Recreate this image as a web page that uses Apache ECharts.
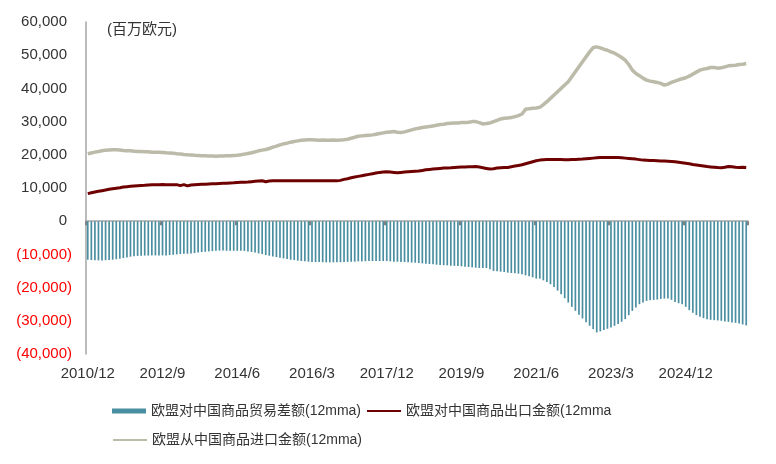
<!DOCTYPE html>
<html>
<head>
<meta charset="utf-8">
<script src="https://cdn.jsdelivr.net/npm/echarts@6/dist/echarts.min.js"></script>
<style>
  html, body { margin: 0; padding: 0; background: #fff; }
  #chart { width: 776px; height: 464px; }
</style>
</head>
<body>
<div id="chart"></div>
<script>
// 月份类目：2010/12 起，共 186 个月
const months = [];
for (let k = 0; k < 186; k++) {
  const m = 11 + k; // 从 2010 年 12 月开始
  months.push((2010 + Math.floor(m / 12)) + '/' + (m % 12 + 1));
}

const nameBalance = '欧盟对中国商品贸易差额(12mma)';
const nameExport = '欧盟对中国商品出口金额(12mma';
const nameImport = '欧盟从中国商品进口金额(12mma)';

// 欧盟从中国商品进口金额（百万欧元）
const importValues = [
  20300, 20550, 20800, 21000, 21200, 21400, 21450, 21500, 21500, 21450, 21300, 21250,
  21200, 21100, 21000, 21000, 20950, 20900, 20800, 20800, 20750, 20700, 20600, 20550,
  20500, 20300, 20250, 20100, 20000, 19950, 19850, 19800, 19700, 19700, 19650, 19650,
  19600, 19650, 19650, 19700, 19700, 19800, 19850, 20000, 20200, 20400, 20600, 20900,
  21200, 21400, 21600, 21900, 22300, 22600, 23000, 23300, 23500, 23800, 24000, 24200,
  24400, 24450, 24500, 24500, 24450, 24400, 24450, 24400, 24400, 24450, 24400, 24450,
  24550, 24700, 25000, 25300, 25600, 25700, 25800, 25900, 26000, 26200, 26400, 26600,
  26800, 26900, 27000, 26800, 26700, 26900, 27200, 27500, 27800, 28000, 28200, 28400,
  28500, 28700, 28900, 29100, 29200, 29400, 29500, 29600, 29600, 29700, 29700, 29800,
  30000, 30000, 29700, 29300, 29400, 29600, 30000, 30400, 30800, 31000, 31100, 31200,
  31500, 31800, 32300, 33700, 33900, 34000, 34100, 34300, 35100, 36000, 37000, 38000,
  39000, 40000, 41000, 42000, 43500, 45000, 46500, 48000, 49500, 51000, 52300, 52500,
  52200, 51800, 51500, 51000, 50600, 50000, 49300, 48500, 47200, 45500, 44500, 43800,
  43100, 42500, 42200, 42000, 41800, 41500, 41000, 41300, 41800, 42200, 42600, 42900,
  43200, 43700, 44300, 44900, 45500, 45800, 46000, 46300, 46300, 46100, 46200, 46500,
  46800, 46900, 47000, 47200, 47300, 47500
];

// 欧盟对中国商品出口金额（百万欧元）
const exportValues = [
  8300, 8550, 8800, 9000, 9200, 9400, 9600, 9800, 9950, 10100, 10300, 10400,
  10500, 10600, 10700, 10750, 10800, 10900, 11000, 11000, 11000, 11050, 11000, 11000,
  11000, 11000, 10700, 11000, 10650, 10900, 11000, 11050, 11100, 11150, 11200, 11250,
  11300, 11350, 11400, 11450, 11500, 11550, 11650, 11700, 11750, 11800, 11900, 12000,
  12100, 12200, 11900, 12100, 12200, 12200, 12200, 12200, 12200, 12200, 12200, 12200,
  12200, 12200, 12200, 12200, 12200, 12200, 12200, 12200, 12200, 12150, 12150, 12300,
  12600, 12800, 13100, 13300, 13500, 13700, 13900, 14100, 14300, 14500, 14700, 14850,
  14900, 14800, 14700, 14600, 14700, 14800, 14900, 15000, 15050, 15100, 15300, 15500,
  15600, 15700, 15800, 15900, 16000, 16050, 16100, 16200, 16250, 16300, 16350, 16400,
  16400, 16450, 16300, 16100, 15900, 15700, 15800, 16000, 16100, 16150, 16200, 16400,
  16600, 16800, 17000, 17300, 17600, 17900, 18200, 18400, 18500, 18550, 18600, 18600,
  18600, 18550, 18500, 18500, 18550, 18600, 18650, 18700, 18800, 18900, 19000, 19100,
  19150, 19200, 19200, 19200, 19200, 19150, 19100, 19000, 18900, 18800, 18700, 18550,
  18400, 18350, 18300, 18250, 18200, 18150, 18100, 18050, 18000, 17900, 17750, 17600,
  17450, 17300, 17100, 16950, 16800, 16650, 16450, 16350, 16250, 16150, 16100, 16250,
  16500, 16400, 16250, 16200, 16250, 16200
];

// 欧盟对中国商品贸易差额（百万欧元）
const balanceValues = [
  -11600, -11700, -11750, -11800, -11800, -11750, -11700, -11600, -11450, -11300, -11100, -10900,
  -10700, -10550, -10450, -10400, -10350, -10350, -10300, -10300, -10300, -10300, -10300, -10200,
  -10100, -10000, -9900, -9800, -9800, -9700, -9600, -9450, -9300, -9200, -9100, -9000,
  -8900, -8850, -8850, -8900, -8900, -8900, -8900, -8900, -8950, -9100, -9250, -9400,
  -9700, -9900, -10200, -10400, -10600, -10800, -11000, -11200, -11400, -11600, -11700, -11900,
  -12000, -12100, -12200, -12300, -12300, -12300, -12350, -12400, -12400, -12400, -12400, -12350,
  -12300, -12250, -12200, -12200, -12100, -12100, -12050, -12000, -12000, -12000, -12000, -12000,
  -12000, -12100, -12200, -12200, -12300, -12300, -12400, -12450, -12500, -12600, -12700, -12800,
  -12900, -13000, -13100, -13200, -13250, -13300, -13400, -13450, -13500, -13600, -13700, -13800,
  -13900, -14000, -14100, -14100, -14100, -14500, -15000, -15100, -15200, -15300, -15500, -15600,
  -15700, -15800, -16000, -16300, -16600, -16900, -17300, -17300, -17800, -18300, -19000, -19800,
  -20900, -22000, -23200, -24500, -25800, -27000, -28200, -29300, -30400, -31500, -32500, -33500,
  -33200, -32800, -32400, -32000, -31500, -31000, -30300, -29500, -28300, -27000, -26000, -25000,
  -24500, -24000, -23800, -23700, -23600, -23400, -23300, -23300, -23700, -24300, -24700, -25000,
  -25800, -26800, -27600, -28300, -28800, -29200, -29500, -29700, -29800, -29900, -30000, -30200,
  -30300, -30500, -30600, -30800, -31100, -31400
];

const fontStack = '"Liberation Sans", Arial, "Noto Sans CJK SC", sans-serif';

function fmtValue(v) {
  const s = Math.abs(v).toLocaleString('en-US');
  if (v < 0) return '{n|(' + s + ')}';
  return '{p|' + s + '}';
}

const chart = echarts.init(document.getElementById('chart'));

const legendText = { fontSize: 14, color: '#333', fontFamily: fontStack };

const option = {
  backgroundColor: '#ffffff',
  animation: false,
  textStyle: { fontFamily: fontStack },
  grid: { left: 86, right: 28, top: 22, bottom: 110, containLabel: false },
  graphic: [{
    type: 'text',
    left: 107,
    top: 22,
    style: { text: '(百万欧元)', fontSize: 15, fill: '#333', fontFamily: fontStack }
  }],
  legend: [{
    left: 112,
    top: 404,
    padding: 0,
    itemWidth: 34,
    itemHeight: 5,
    itemGap: 5,
    textStyle: legendText,
    data: [
      { name: nameBalance, icon: 'rect' },
      { name: nameExport, itemStyle: { opacity: 0 } }
    ]
  }, {
    left: 112,
    top: 433,
    padding: 0,
    itemWidth: 34,
    itemHeight: 5,
    textStyle: legendText,
    data: [{ name: nameImport, itemStyle: { opacity: 0 } }]
  }],
  xAxis: [{
    type: 'category',
    data: months,
    position: 'top',
    boundaryGap: true,
    axisLine: { onZero: true, lineStyle: { color: '#a6a6a6', width: 1.5 } },
    axisTick: { show: true, inside: true, interval: 20, length: 4, lineStyle: { color: '#808080', width: 2 } },
    axisLabel: { show: false }
  }, {
    type: 'category',
    data: months,
    position: 'bottom',
    boundaryGap: true,
    axisLine: { show: false, onZero: false },
    axisTick: { show: false },
    axisLabel: { interval: 20, fontSize: 15, color: '#333', margin: 12, fontFamily: fontStack }
  }],
  yAxis: {
    type: 'value',
    min: -40000,
    max: 60000,
    interval: 10000,
    axisLine: { show: true, lineStyle: { color: '#a6a6a6', width: 1.5 } },
    axisTick: { show: false },
    splitLine: { show: false },
    axisLabel: {
      margin: 14,
      formatter: fmtValue,
      rich: {
        p: { fontSize: 15, color: '#333', padding: [0, 5, 0, 0], fontFamily: fontStack },
        n: { fontSize: 15, color: '#ff0000', fontFamily: fontStack }
      }
    }
  },
  series: [{
    name: nameBalance,
    type: 'bar',
    xAxisIndex: 0,
    barWidth: 1.7,
    itemStyle: { color: '#4a8fa1' },
    data: balanceValues
  }, {
    name: nameExport,
    type: 'line',
    xAxisIndex: 0,
    symbol: 'none',
    itemStyle: { color: '#6e0000' },
    lineStyle: { color: '#6e0000', width: 3 },
    data: exportValues
  }, {
    name: nameImport,
    type: 'line',
    xAxisIndex: 0,
    symbol: 'none',
    itemStyle: { color: '#bcbaa8' },
    lineStyle: { color: '#bcbaa8', width: 3.5 },
    data: importValues
  }]
};

chart.setOption(option);
window.onresize = function () { chart.resize(); };
</script>
</body>
</html>
